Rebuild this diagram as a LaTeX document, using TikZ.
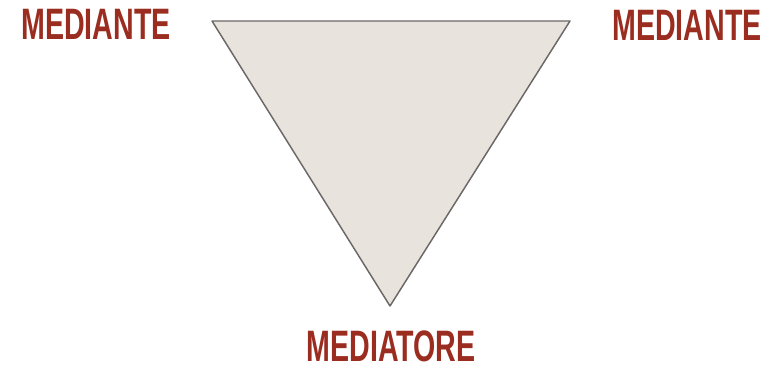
\documentclass[tikz,border=0pt]{standalone}
\usepackage{fontspec}
\setmainfont{Liberation Sans}
\definecolor{labelred}{HTML}{9B2D20}
\definecolor{trifill}{HTML}{E8E3DD}
\definecolor{triline}{HTML}{6B6867}
\newcommand*{\narrow}[1]{\scalebox{0.65}[1]{#1}}

\begin{document}
\begin{tikzpicture}[x=0.75pt,y=-0.75pt,
	lbl/.style={text=labelred,font=\fontsize{33}{33}\selectfont\bfseries,inner sep=0pt}]

	\useasboundingbox (0,0) rectangle (771,368);

	% triangle
	\coordinate (tl) at (212,21);
	\coordinate (tr) at (570,21);
	\coordinate (bot) at (390,306);
	\draw[triline,fill=trifill,line width=1.1pt,line join=round] (tl) -- (tr) -- (bot) -- cycle;

	% labels
	\node[lbl] (left) at (96,24) {\narrow{MEDIANTE}};
	\node[lbl] (right) at (687,25) {\narrow{MEDIANTE}};
	\node[lbl] (med) at (391,346) {\narrow{MEDIATORE}};

\end{tikzpicture}
\end{document}
